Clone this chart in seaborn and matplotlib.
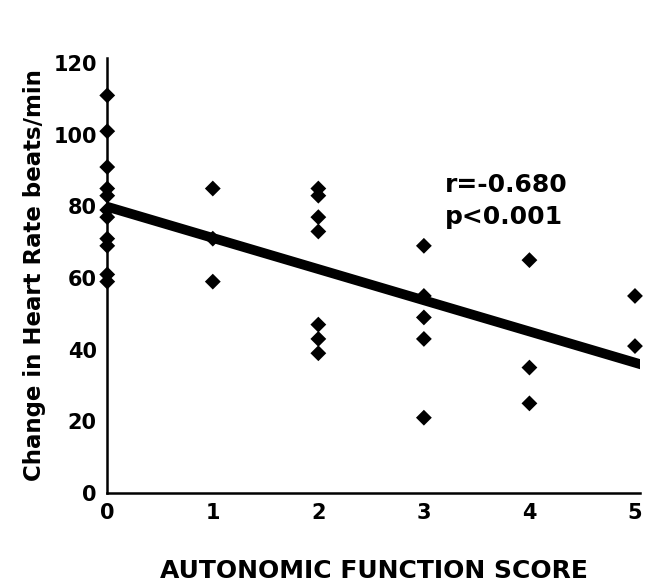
import pandas as pd
import matplotlib
matplotlib.use("Agg")
import matplotlib.pyplot as plt
import seaborn as sns

# values, grouped by autonomic function score
score_0 = [111, 101, 91, 85, 83, 79, 77, 71, 69, 61, 59]
score_1 = [85, 71, 59]
score_2 = [85, 83, 77, 73, 47, 43, 39]
score_3 = [69, 55, 49, 43, 21]
score_4 = [65, 35, 25]
score_5 = [55, 41]

groups = [score_0, score_1, score_2, score_3, score_4, score_5]
scores = [s for s, vals in enumerate(groups) for _ in vals]
rates = [v for vals in groups for v in vals]
df = pd.DataFrame({"score": scores, "hr_change": rates})

x_ticks = [0, 1, 2, 3, 4, 5]
y_ticks = [0, 20, 40, 60, 80, 100, 120]

sns.set_style("white")
plt.rcParams["font.family"] = ["DejaVu Sans"]
plt.rcParams["font.weight"] = "bold"
for key in ["text.color", "axes.labelcolor", "xtick.color", "ytick.color"]:
    plt.rcParams[key] = "black"

fig = plt.figure(figsize=(6.5, 5.84), dpi=100)
ax = fig.add_axes([0.165, 0.156, 0.82, 0.745])

sns.regplot(data=df, x="score", y="hr_change", ax=ax, ci=None, truncate=False,
            marker="D", color="black",
            scatter_kws={"s": 65, "edgecolor": "none", "alpha": 1,
                         "zorder": 3, "clip_on": False},
            line_kws={"linewidth": 7, "color": "black", "zorder": 2})

ax.set_xlim(0, 5.05)
ax.set_ylim(0, 121.5)
ax.set_xticks(x_ticks)
ax.set_yticks(y_ticks)
ax.tick_params(direction="inout", length=7, width=1.5, labelsize=15, pad=4)
for lab in ax.get_xticklabels() + ax.get_yticklabels():
    lab.set_fontweight("bold")

sns.despine(ax=ax)
for side in ["left", "bottom"]:
    ax.spines[side].set_linewidth(1.8)
    ax.spines[side].set_color("black")

ax.set_xlabel("AUTONOMIC FUNCTION SCORE", fontsize=18, fontweight="bold", labelpad=26)
ax.set_ylabel("Change in Heart Rate beats/min", fontsize=16.5, fontweight="bold", labelpad=5)

ax.text(3.2, 86, "r=-0.680", fontsize=18, fontweight="bold", va="center")
ax.text(3.2, 77, "p<0.001", fontsize=18, fontweight="bold", va="center")

fig.savefig("out.png", dpi=100)
